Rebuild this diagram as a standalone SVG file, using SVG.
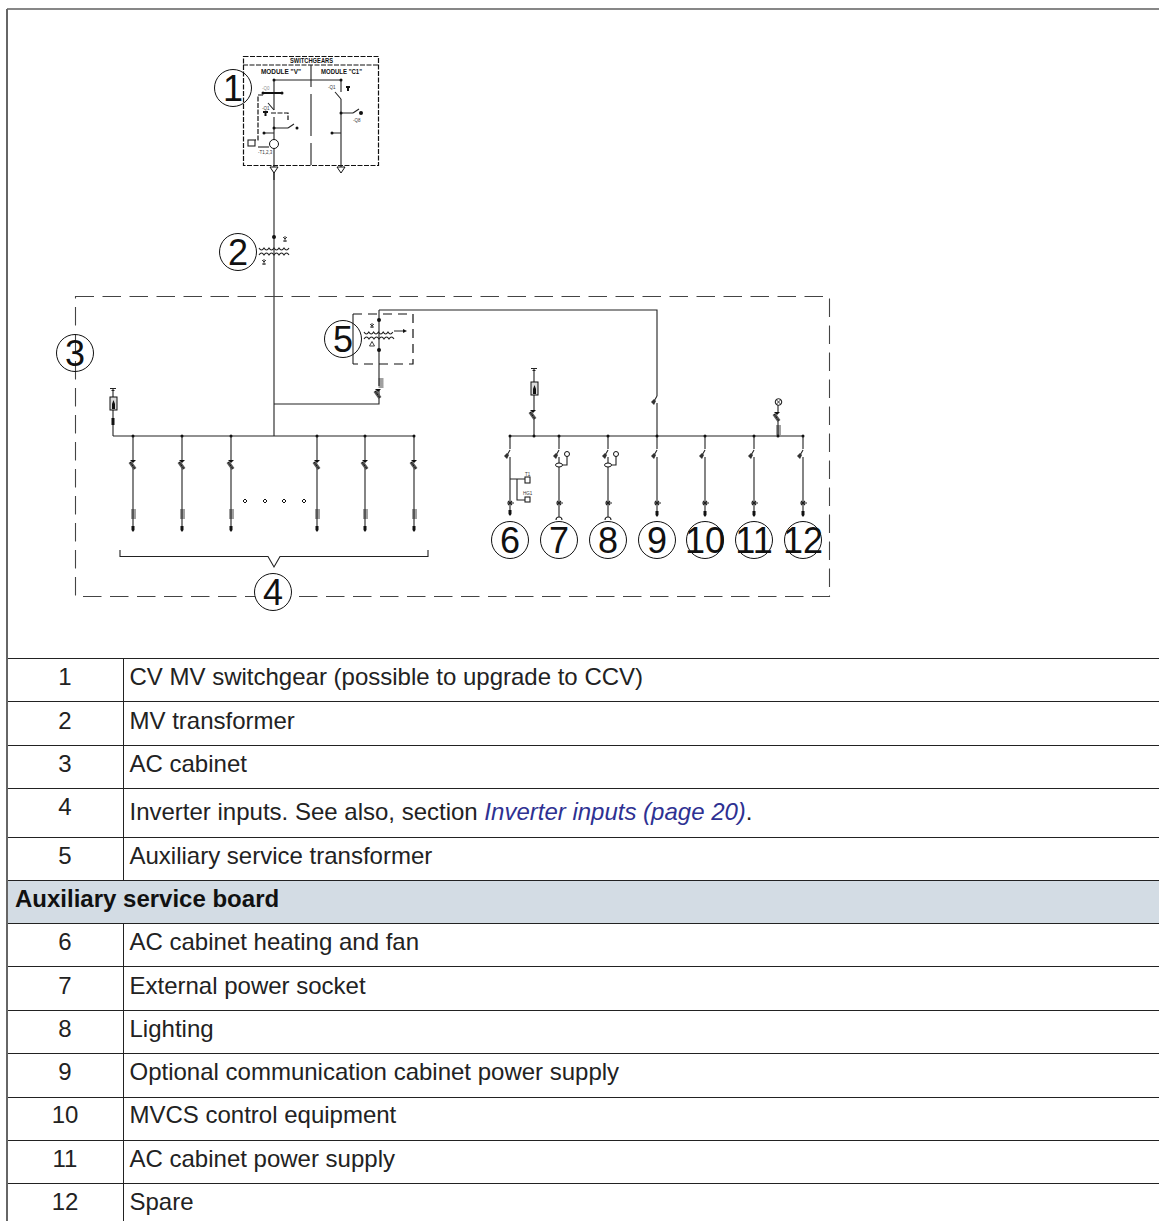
<svg xmlns="http://www.w3.org/2000/svg" width="1159" height="1221" viewBox="0 0 1159 1221">
<style>
.l{fill:none;stroke:#222;stroke-width:1.1}
.b{fill:none;stroke:#111;stroke-width:.8}
.t{stroke:#222;stroke-width:1;fill:none}
.d{fill:#111}
.c{fill:none;stroke:#111;stroke-width:1}
.w{fill:#fff;stroke:#111;stroke-width:1}
.n{font:36px "Liberation Sans",Arial,sans-serif;text-anchor:middle;fill:#111}
.s{font:7px "Liberation Sans",Arial,sans-serif;fill:#111;font-weight:bold}
.x{font:4.5px "Liberation Sans",Arial,sans-serif;fill:#333}
.r{font:24px "Liberation Sans",Arial,sans-serif;fill:#222}
.m{text-anchor:middle}
.dash{fill:none;stroke:#444;stroke-width:1.1;stroke-dasharray:18.500 8.500}
.dash2{fill:none;stroke:#111;stroke-width:1.2;stroke-dasharray:5 1.500}
</style>
<defs>
<g id="brk"><path fill="#111" d="M-3-5H3L0-2Z"/><path d="M-3-3L2 4" stroke="#555" stroke-width="3.500" fill="none"/><path d="M-3-3L2 4" stroke="#000" stroke-width="1" stroke-dasharray="1 1" fill="none"/></g>
<g id="sw"><path class="l" d="M0-7L-4 0"/><path d="M-6-1l3-3 2 2-2 4z" fill="#333"/></g>
<g id="coil"><path class="b" d="M-2.500 1h5M-2.500 3h5M-2.500 5h5M-2.500 7h5M-2.500 9h5"/></g>
<g id="cross"><path class="l" d="M-3 0H4M-2-2L2 2M-2 2L2-2"/></g>
<g id="term"><path fill="#111" d="M-1.500-3H1.500V1L0 3-1.500 1Z"/></g>
</defs>
<g id="frame">
<path d="M7 9H1159" stroke="#111" stroke-width="1.200" fill="none"/>
<path d="M7 9V1221" stroke="#666" stroke-width="2" fill="none"/>
</g>
<g id="connectors">
<path class="l" d="M274 170V436M274 404H379V390M379 310V386M379 310H657V396M657 403V436M113 436H414M510 436H803M113 436V397M534 436V419"/>
<path class="l" d="M133 436V462M133 468V527M182 436V462M182 468V527M231 436V462M231 468V527M317 436V462M317 468V527M365 436V462M365 468V527M414 436V462M414 468V527"/>
<path class="l" d="M510 436V449M510 457V515M559 436V449M559 457V517M608 436V449M608 457V517M657 436V449M657 457V515M705 436V449M705 457V515M754 436V449M754 457V515M803 436V449M803 457V515"/>
<path class="l" d="M120 550V556.500H268L274 567 280 556.500H428V550"/>
</g>
<g id="node-1">
<rect class="dash2" x="243.500" y="56.500" width="135" height="109"/>
<path class="dash2" d="M243 65H378"/>
<path class="l" d="M311 65V87M311 94V136M311 143V165M274 80H341M274 80V110M274 117V168M341 80V92M341 99V168M262 93H282M341 113H353M274 128H288M332 133H341M264 133H274"/>
<path stroke="#111" stroke-width="2" fill="none" d="M263 93H282"/>
<path class="l" d="M274 110L268 103M341 99L335 92M353 113L359 109M288 128L294 124"/>
<path class="dash2" d="M263 95H258V140H255M271 113H288V120"/>
<rect class="l" x="248" y="140" width="7" height="6"/>
<circle cx="274" cy="144" r="4.500" fill="#fff" stroke="#111"/>
<path d="M258 147H269" class="l"/>
<path class="w" d="M270 167H278L274 173ZM337 167H345L341 173Z"/>
<path d="M274 173V180" class="l"/>
<path class="d" d="M263 111H268V113H266.500V116H264.500V113H263ZM346 86H350V88H349V91H347V88H346Z"/>
<circle class="d" cx="274" cy="80" r="1.500"/><circle class="d" cx="341" cy="80" r="1.500"/><circle class="d" cx="341" cy="113" r="1.500"/><circle class="d" cx="274" cy="128" r="1.500"/><circle class="d" cx="263" cy="93" r="1.500"/><circle class="d" cx="282" cy="93" r="1.500"/><circle class="d" cx="361" cy="113" r="2"/><circle class="d" cx="297" cy="128" r="1.500"/><circle class="d" cx="264" cy="133" r="1.500"/><circle class="d" cx="332" cy="133" r="1.500"/>
<text class="s" x="290" y="63" textLength="43" lengthAdjust="spacingAndGlyphs">SWITCHGEARS</text><text class="s" x="261" y="74" textLength="40" lengthAdjust="spacingAndGlyphs">MODULE "V"</text><text class="s" x="321" y="74" textLength="41" lengthAdjust="spacingAndGlyphs">MODULE "C1"</text>
<text class="x" x="262" y="90" fill-opacity=".6">-Q0</text><text class="x" x="262" y="110">-Q1</text><text class="x" x="328" y="89">-Q1</text><text class="x" x="353" y="122">-Q8</text><text class="x" x="258" y="154">-T1,2,3</text>
<circle class="c" cx="233" cy="88" r="18.500"/><text class="n" x="233" y="101">1</text>
</g>
<g id="node-2">
<circle class="d" cx="274" cy="237" r="2"/>
<path class="l" d="M259 248q2.500 4 5 0 2.500 4 5 0 2.500 4 5 0 2.500 4 5 0 2.500 4 5 0 2.500 4 5 0M259 255q2.500-4 5 0 2.500-4 5 0 2.500-4 5 0 2.500-4 5 0 2.500-4 5 0 2.500-4 5 0"/>
<path class="b" d="M285 236v6M283 237l2 2 2-2M283 241h4M264 259v6M262 260l2 2 2-2M262 264h4"/>
<circle class="c" cx="238" cy="252" r="18.500"/><text class="n" x="238" y="265">2</text>
</g>
<g id="node-3"><rect class="dash" x="75.500" y="296.500" width="754" height="300"/><circle class="c" cx="75" cy="353" r="18.500"/><text class="n" x="75" y="366">3</text></g>
<g id="node-4">
<path class="l" d="M110 388.500H116M111.500 390.500H114.500M113 389V397"/><rect x="110" y="397" width="7" height="13" fill="#ddd" stroke="#111"/><path class="d" d="M112 409V404L113.500 400 115 404V409Z"/><rect class="d" x="111.500" y="418" width="3" height="7"/>
<use href="#brk" x="133" y="465"/><use href="#brk" x="182" y="465"/><use href="#brk" x="231" y="465"/><use href="#brk" x="317" y="465"/><use href="#brk" x="365" y="465"/><use href="#brk" x="414" y="465"/>
<use href="#coil" x="133.500" y="509"/><use href="#coil" x="182.500" y="509"/><use href="#coil" x="231.500" y="509"/><use href="#coil" x="317.500" y="509"/><use href="#coil" x="365.500" y="509"/><use href="#coil" x="414.500" y="509"/>
<use href="#term" x="133" y="529"/><use href="#term" x="182" y="529"/><use href="#term" x="231" y="529"/><use href="#term" x="317" y="529"/><use href="#term" x="365" y="529"/><use href="#term" x="414" y="529"/>
<g fill="#fff" stroke="#111"><path d="M245 499l2 2-2 2-2-2zM265 499l2 2-2 2-2-2zM284 499l2 2-2 2-2-2zM304 499l2 2-2 2-2-2z"/></g>
<circle class="w" cx="273" cy="592" r="18.500"/><text class="n" x="273" y="605">4</text>
</g>
<g id="node-5">
<path class="l" d="M353 314V364"/>
<path class="dash2" style="stroke-dasharray:9 6" d="M353 314H413V364H353"/>
<path class="l" d="M364 332q2.400 4 4.800 0 2.400 4 4.800 0 2.400 4 4.800 0 2.400 4 4.800 0 2.400 4 4.800 0 2.400 4 4.800 0M364 339q2.500-4 5 0 2.500-4 5 0 2.500-4 5 0 2.500-4 5 0 2.500-4 5 0 2.500-4 5 0M394 331H405"/>
<path d="M403 329L407 331 403 333Z" fill="#111"/>
<path class="b" d="M372 323v5M370 324l2 2 2-2M370 327h4M369.500 346H374.500L372 341.500Z"/>
<circle class="d" cx="379" cy="320" r="2"/><circle class="d" cx="379" cy="350" r="2"/>
<use href="#coil" x="381" y="378"/><use href="#brk" x="378" y="394"/>
<circle class="c" cx="343" cy="339" r="18.500"/><text class="n" x="343" y="352">5</text>
</g>
<g id="node-6">
<use href="#sw" x="510" y="457"/><path class="l" d="M510 479H525M517 479V500H525"/><rect class="l" x="525" y="477" width="5" height="6"/><rect class="l" x="525" y="497" width="5" height="5"/>
<text class="x" x="525" y="476">T1</text><text class="x" x="523" y="495">HG1</text>
<use href="#cross" x="510" y="503"/><use href="#term" x="510" y="513"/>
<circle class="c" cx="510" cy="540" r="18.500"/><text class="n" x="510" y="553">6</text>
</g>
<g id="node-7"><use href="#sw" x="559" y="457"/><path class="l" d="M567 454V465H562"/><circle class="w" cx="567" cy="454" r="2.500"/><ellipse class="w" cx="559" cy="465" rx="3.500" ry="2"/><use href="#cross" x="559" y="503"/><path class="l" d="M556 520a3 3 0 0 1 6 0"/><circle class="c" cx="559" cy="540" r="18.500"/><text class="n" x="559" y="553">7</text></g>
<g id="node-8"><use href="#sw" x="608" y="457"/><path class="l" d="M616 454V465H611"/><circle class="w" cx="616" cy="454" r="2.500"/><ellipse class="w" cx="608" cy="465" rx="3.500" ry="2"/><use href="#cross" x="608" y="503"/><path class="l" d="M605 520a3 3 0 0 1 6 0"/><circle class="c" cx="608" cy="540" r="18.500"/><text class="n" x="608" y="553">8</text></g>
<g id="node-9"><use href="#sw" x="657" y="457"/><use href="#sw" x="657" y="403"/><use href="#cross" x="657" y="503"/><use href="#term" x="657" y="514"/><circle class="c" cx="657" cy="540" r="18.500"/><text class="n" x="657" y="553">9</text></g>
<g id="node-10"><use href="#sw" x="705" y="457"/><use href="#cross" x="705" y="503"/><use href="#term" x="705" y="514"/><circle class="c" cx="705" cy="540" r="18.500"/><text class="n" x="705" y="553">10</text></g>
<g id="node-11"><use href="#sw" x="754" y="457"/><use href="#cross" x="754" y="503"/><use href="#term" x="754" y="514"/><circle class="c" cx="754" cy="540" r="18.500"/><text class="n" x="754" y="553">11</text></g>
<g id="node-12"><use href="#sw" x="803" y="457"/><use href="#cross" x="803" y="503"/><use href="#term" x="803" y="514"/><circle class="c" cx="803" cy="540" r="18.500"/><text class="n" x="803" y="553">12</text></g>
<g id="feeders">
<path class="l" d="M531 368.500H537M532.500 370.500H535.500M534 369V382M534 395V411"/><rect x="531" y="382" width="7" height="13" fill="#ddd" stroke="#111"/><path class="d" d="M533 394V389L534.500 385 536 389V394Z"/>
<use href="#brk" x="533" y="415"/>
<circle class="w" cx="778.500" cy="402" r="3.300"/><path class="b" d="M776.500 400l4 4M780.500 400l-4 4"/><path class="l" d="M778 405V412M778 421V436"/><use href="#brk" x="777" y="417"/><use href="#coil" x="778.500" y="425"/>
</g>
<g id="dots">
<circle class="d" cx="510" cy="436" r="1.500"/><circle class="d" cx="534" cy="436" r="1.500"/><circle class="d" cx="559" cy="436" r="1.500"/><circle class="d" cx="608" cy="436" r="1.500"/><circle class="d" cx="657" cy="436" r="1.500"/><circle class="d" cx="705" cy="436" r="1.500"/><circle class="d" cx="754" cy="436" r="1.500"/><circle class="d" cx="778" cy="436" r="1.500"/><circle class="d" cx="803" cy="436" r="1.500"/>
<circle class="d" cx="133" cy="436" r="1.500"/><circle class="d" cx="182" cy="436" r="1.500"/><circle class="d" cx="231" cy="436" r="1.500"/><circle class="d" cx="317" cy="436" r="1.500"/><circle class="d" cx="365" cy="436" r="1.500"/><circle class="d" cx="414" cy="436" r="1.500"/>
</g>
<g id="table">
<rect x="8" y="881" width="1151" height="43" fill="#d3dce4"/>
<path class="t" d="M8 658.500H1159M8 701.500H1159M8 745.500H1159M8 788.500H1159M8 837.500H1159M8 880.500H1159M8 923.500H1159M8 966.500H1159M8 1010.500H1159M8 1053.500H1159M8 1097.500H1159M8 1140.500H1159M8 1183.500H1159M123.500 658V880M123.500 924V1221"/>
<g class="r">
<text class="m" x="65" y="685">1</text><text x="129.500" y="685">CV MV switchgear (possible to upgrade to CCV)</text>
<text class="m" x="65" y="729">2</text><text x="129.500" y="729">MV transformer</text>
<text class="m" x="65" y="772">3</text><text x="129.500" y="772">AC cabinet</text>
<text class="m" x="65" y="815">4</text><text x="129.500" y="820">Inverter inputs. See also, section <tspan fill="#2e3192" font-style="italic">Inverter inputs (page 20)</tspan>.</text>
<text class="m" x="65" y="864">5</text><text x="129.500" y="864">Auxiliary service transformer</text>
<text x="15" y="907" font-weight="bold" fill="#111">Auxiliary service board</text>
<text class="m" x="65" y="950">6</text><text x="129.500" y="950">AC cabinet heating and fan</text>
<text class="m" x="65" y="994">7</text><text x="129.500" y="994">External power socket</text>
<text class="m" x="65" y="1037">8</text><text x="129.500" y="1037">Lighting</text>
<text class="m" x="65" y="1080">9</text><text x="129.500" y="1080">Optional communication cabinet power supply</text>
<text class="m" x="65" y="1123">10</text><text x="129.500" y="1123">MVCS control equipment</text>
<text class="m" x="65" y="1167">11</text><text x="129.500" y="1167">AC cabinet power supply</text>
<text class="m" x="65" y="1210">12</text><text x="129.500" y="1210">Spare</text>
</g>
</g>
</svg>
